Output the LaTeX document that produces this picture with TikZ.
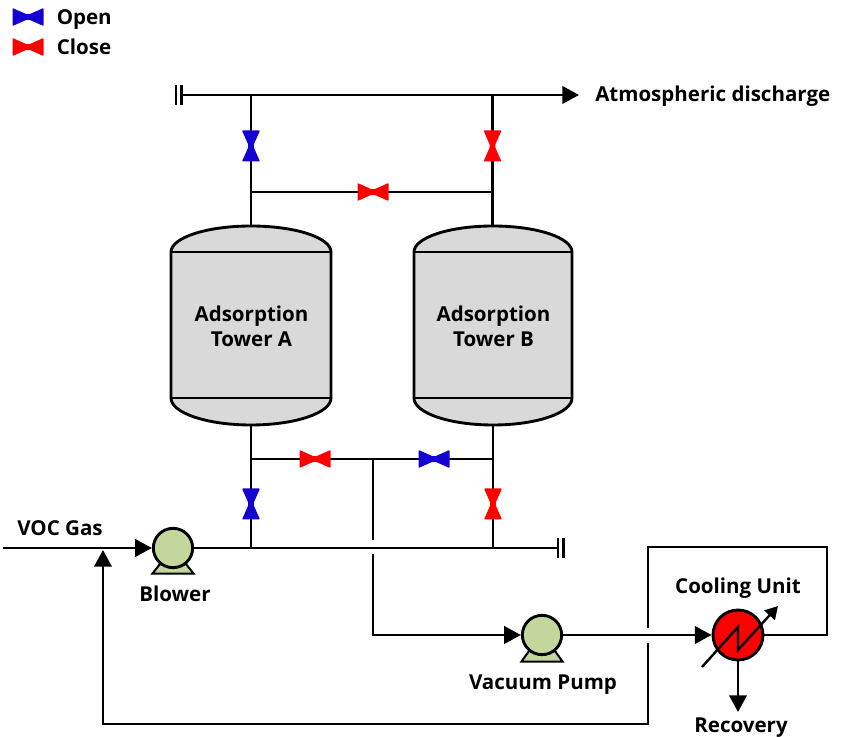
\documentclass[tikz,border=0pt]{standalone}
\usepackage{fontspec}
\setmainfont{Open Sans}
\usetikzlibrary{arrows.meta,calc}
\definecolor{vblue}{HTML}{1400D2}
\definecolor{vred}{HTML}{FF0000}
\definecolor{pumpgreen}{HTML}{C3D69B}
\definecolor{towergray}{HTML}{D9D9D9}
\tikzset{
  pipe/.style={draw=black,line width=2.15pt,line cap=butt,line join=miter},
  flow/.style={pipe,-{Triangle[length=12.5pt,width=13pt]}},
  thinflow/.style={draw=black,line width=1.8pt,-{Triangle[length=9.5pt,width=10.5pt]}},
  lbl/.style={font=\bfseries\fontsize{15.4}{18.75}\selectfont,inner sep=0pt,align=center,text=black},
  lblb/.style={lbl,anchor=base},
  pumpbody/.style={circle,draw=black,line width=2.15pt,fill=pumpgreen,minimum size=29.5pt,inner sep=0pt},
  coolerbody/.style={circle,draw=black,line width=2.15pt,fill=vred,minimum size=37.5pt,inner sep=0pt},
  anchorpt/.style={inner sep=0pt,minimum size=0pt},
  capbar/.style={draw=black,line width=1.9pt},
}
% horizontal valve: name, position, colour
\newcommand{\valveH}[3]{%
  \node[anchorpt] (#1) at (#2) {};
  \fill[#3,rounded corners=0.6pt] ($(#1)+(-15.5,-9)$) -- ($(#1)+(-1.5,-2.8)$) -- ($(#1)+(1.5,-2.8)$) -- ($(#1)+(15.5,-9)$) -- ($(#1)+(15.5,9)$) -- ($(#1)+(1.5,2.8)$) -- ($(#1)+(-1.5,2.8)$) -- ($(#1)+(-15.5,9)$) -- cycle;
}
% vertical valve
\newcommand{\valveV}[3]{%
  \node[anchorpt] (#1) at (#2) {};
  \fill[#3,rounded corners=0.6pt] ($(#1)+(-9,-15.5)$) -- ($(#1)+(-2.8,-1.5)$) -- ($(#1)+(-2.8,1.5)$) -- ($(#1)+(-9,15.5)$) -- ($(#1)+(9,15.5)$) -- ($(#1)+(2.8,1.5)$) -- ($(#1)+(2.8,-1.5)$) -- ($(#1)+(9,-15.5)$) -- cycle;
}
% tower: name, centre x, half width, text
\newcommand{\tower}[4]{%
  \path[fill=towergray,draw=black,line width=2.15pt]
    (#2-#3,252) arc[start angle=180,end angle=360,x radius=#3,y radius=26]
    -- (#2+#3,398) arc[start angle=0,end angle=180,x radius=#3,y radius=27] -- cycle;
  \draw[line width=2.15pt] (#2-#3,252) -- (#2+#3,252) (#2-#3,398) -- (#2+#3,398);
  \node[lbl] (#1) at (#2+0.5,326.5) {Adsorption\\Tower #4};
  \coordinate (#1top) at (#2,226);
  \coordinate (#1bot) at (#2,425);
}
% pump base
\newcommand{\pumpbase}[2]{%
  \path[fill=pumpgreen,draw=black,line width=1.5pt,line join=miter] ($(#1)+(-13,16)$) -- ($(#1)+(-20.5,#2)$) -- ($(#1)+(20.5,#2)$) -- ($(#1)+(13,16)$) -- cycle;
}
\begin{document}
\begin{tikzpicture}[x=0.75pt,y=-0.75pt]
\useasboundingbox (0,0) rectangle (846,737);
% named points
\coordinate (topstart) at (182,95);
\coordinate (toptip) at (579,95);
\coordinate (jt1) at (251,95);
\coordinate (jt2) at (492.5,95);
\coordinate (jm1) at (251,192);
\coordinate (jm2) at (492.5,192);
\coordinate (jl1) at (251,459);
\coordinate (jl2) at (493,459);
\coordinate (jl3) at (373,459);
\coordinate (jb1) at (251,548);
\coordinate (jb2) at (493,548);
\coordinate (botend) at (558,548);
\coordinate (vocin) at (3,548);
\coordinate (branchgapa) at (373,540);
\coordinate (branchgapb) at (373,554);
\coordinate (branchcorner) at (373,635);
\coordinate (loopR) at (827,635);
\coordinate (loopTR) at (827,547);
\coordinate (loopTL) at (648,547);
\coordinate (loopgapa) at (648,628);
\coordinate (loopgapb) at (648,643);
\coordinate (loopBR) at (648,724);
\coordinate (loopBL) at (103,724);
\coordinate (returntip) at (103,550);
\coordinate (rectip) at (738,712);

% towers
\tower{towerA}{251}{80}{A}
\tower{towerB}{493}{79}{B}

% pipes
\draw[flow] (topstart) -- (toptip);
\draw[pipe] (jt1) -- (towerAtop);
\draw[pipe] (jt2) -- (jt2 |- towerBtop);
\draw[pipe] (jm1) -- (jm2);
\draw[pipe] (towerAbot) -- (jb1);
\draw[pipe] (towerBbot) -- (jb2);
\draw[pipe] (jl1) -- (jl2);
\draw[pipe] (jl3) -- (branchgapa);
\draw[pipe] (173,548) -- (botend);
\draw[capbar] (558,538) -- (558,558) (563.5,538) -- (563.5,558);
\draw[capbar] (176,85) -- (176,105) (181.5,85) -- (181.5,105);

% pumps
\coordinate (blowerc) at (173,548);
\coordinate (vacc) at (542,635);
\pumpbase{blowerc}{25.5}
\pumpbase{vacc}{26.5}
\node[pumpbody] (blower) at (blowerc) {};
\node[pumpbody] (vacpump) at (vacc) {};
\node[coolerbody] (cooler) at (738,635) {};

\draw[flow] (vocin) -- (blower.west);
\draw[flow] (branchgapb) -- (branchcorner) -- (vacpump.west);
\draw[flow] (vacpump.east) -- (cooler.west);
\draw[pipe] (cooler.east) -- (loopR) -- (loopTR) -- (loopTL) -- (loopgapa);
\draw[flow] (loopgapb) -- (loopBR) -- (loopBL) -- (returntip);
\draw[flow] (cooler.south) -- (rectip);

% cooler coil
\coordinate (coilA) at (702,667);
\coordinate (coilB) at (738,627);
\coordinate (coilC) at (738,650);
\coordinate (coilD) at (778,606);
\draw[thinflow,line join=miter] (coilA) -- (coilB) -- (coilC) -- (coilD);

% valves
\valveV{v1}{251,146}{vblue}
\valveV{v2}{492.5,146}{vred}
\valveH{v3}{373,192}{vred}
\valveH{v4}{315,459}{vred}
\valveH{v5}{434,459}{vblue}
\valveV{v6}{251,504}{vblue}
\valveV{v7}{493,504}{vred}
\valveH{legopen}{28,17}{vblue}
\valveH{legclose}{28,47}{vred}

% labels
\node[lbl,anchor=base west] (topen) at (56.5,25) {Open};
\node[lbl,anchor=base west] (tclose) at (56.5,55) {Close};
\node[lbl,anchor=base west] (tatm) at (595,102) {Atmospheric discharge};
\node[lblb] (tvoc) at (60,536) {VOC Gas};
\node[lblb] (tblower) at (175,601) {Blower};
\node[lblb] (tvac) at (543,689) {Vacuum Pump};
\node[lblb] (tcool) at (738,593) {Cooling Unit};
\node[lblb] (trec) at (741,732) {Recovery};
\end{tikzpicture}
\end{document}
